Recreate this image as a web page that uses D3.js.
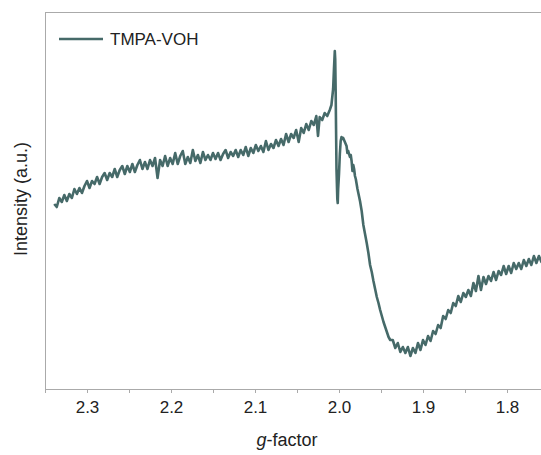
<!DOCTYPE html>
<html>
<head>
<meta charset="utf-8">
<script src="https://cdn.jsdelivr.net/npm/d3@7"></script>
<style>
  body { margin: 0; background: #fff; }
  svg { display: block; font-family: "Liberation Sans", Arial, sans-serif; }
</style>
</head>
<body>
<script>
// DATA
// g-factor positions (x)
var gFactor = [
  2.339, 2.336, 2.333, 2.330, 2.327, 2.324, 2.321, 2.318, 2.315, 2.312,
  2.309, 2.306, 2.303, 2.300, 2.297, 2.294, 2.291, 2.288, 2.285, 2.282,
  2.279, 2.276, 2.273, 2.270, 2.267, 2.264, 2.261, 2.258, 2.255, 2.252,
  2.249, 2.246, 2.243, 2.240, 2.237, 2.234, 2.231, 2.228, 2.225, 2.222,
  2.219, 2.216, 2.213, 2.210, 2.207, 2.204, 2.201, 2.198, 2.195, 2.192,
  2.189, 2.186, 2.183, 2.180, 2.177, 2.174, 2.171, 2.168, 2.165, 2.162,
  2.159, 2.156, 2.153, 2.150, 2.147, 2.144, 2.141, 2.138, 2.135, 2.132,
  2.129, 2.126, 2.123, 2.120, 2.117, 2.114, 2.111, 2.108, 2.105, 2.102,
  2.099, 2.096, 2.093, 2.090, 2.087, 2.084, 2.081, 2.078, 2.075, 2.072,
  2.069, 2.066, 2.063, 2.060, 2.057, 2.054, 2.051, 2.048, 2.045, 2.042,
  2.039, 2.036, 2.033, 2.030, 2.027, 2.025, 2.023, 2.020, 2.017, 2.014,
  2.011, 2.009, 2.007, 2.006, 2.005, 2.0045, 2.004, 2.0035, 2.003, 2.002,
  2.0015, 2.001, 2.000, 1.999, 1.998, 1.997, 1.996, 1.995, 1.993, 1.991,
  1.990, 1.989, 1.987, 1.986, 1.985, 1.984, 1.983, 1.982, 1.981, 1.980,
  1.979, 1.978, 1.977, 1.975, 1.973, 1.971, 1.969, 1.967, 1.965, 1.963,
  1.961, 1.959, 1.957, 1.955, 1.953, 1.951, 1.949, 1.947, 1.945, 1.943,
  1.941, 1.939, 1.936, 1.933, 1.930, 1.927, 1.924, 1.921, 1.918, 1.915,
  1.912, 1.909, 1.906, 1.903, 1.900, 1.897, 1.894, 1.891, 1.888, 1.885,
  1.882, 1.879, 1.876, 1.873, 1.870, 1.867, 1.864, 1.861, 1.858, 1.855,
  1.852, 1.849, 1.846, 1.843, 1.840, 1.837, 1.834, 1.831, 1.828, 1.825,
  1.822, 1.819, 1.816, 1.813, 1.810, 1.807, 1.804, 1.801, 1.798, 1.795,
  1.792, 1.789, 1.786, 1.783, 1.780, 1.777, 1.774, 1.771, 1.768, 1.765,
  1.762, 1.759, 1.756, 1.753, 1.750
];

// EPR intensity (a.u.), same order as gFactor
var intensity = [
  185, 182, 191, 187, 194, 188, 195, 191, 200, 195,
  201, 196, 203, 208, 201, 208, 205, 212, 205, 212,
  216, 209, 216, 212, 220, 212, 219, 223, 215, 223,
  217, 225, 217, 224, 229, 220, 227, 220, 229, 223,
  231, 211, 229, 223, 233, 223, 231, 225, 236, 225,
  233, 238, 225, 232, 226, 239, 228, 234, 226, 237,
  229, 234, 229, 236, 230, 236, 229, 235, 239, 231,
  237, 233, 239, 232, 239, 234, 242, 233, 241, 236,
  244, 238, 243, 237, 248, 239, 245, 241, 249, 243,
  250, 244, 255, 247, 255, 251, 259, 247, 261, 256,
  265, 259, 268, 264, 273, 253, 272, 269, 276, 273,
  279, 284, 300, 320, 338, 330, 300, 260, 220, 190,
  186, 200, 215, 235, 248, 252, 250, 251, 247, 243,
  236, 238, 232, 234, 228, 218, 224, 220, 213, 210,
  205, 200, 196, 188, 178, 164, 155, 146, 136, 124,
  117, 108, 100, 92, 86, 79, 73, 67, 62, 57,
  52, 49, 49, 41, 46, 37, 42, 36, 42, 33,
  41, 36, 46, 39, 49, 44, 53, 48, 58, 55,
  64, 61, 73, 70, 79, 76, 86, 83, 93, 87,
  96, 92, 99, 93, 106, 98, 113, 99, 112, 105,
  113, 108, 117, 109, 118, 114, 123, 115, 123, 116,
  126, 120, 126, 120, 129, 123, 130, 124, 133, 126,
  133, 127, 136, 129, 135
];

var seriesName = "TMPA-VOH";
var majorTicks = [2.3, 2.2, 2.1, 2.0, 1.9, 1.8];
var minorTicks = [2.35, 2.25, 2.15, 2.05, 1.95, 1.85, 1.75];

var data = gFactor.map(function(g, i){ return {g: g, v: intensity[i]}; });

// D3
var svg = d3.select("body")
    .append("svg")
    .attr("width", 541)
    .attr("height", 455);

const margin = {top: 12, left: 45, bottom: 66};
const plotW = 504;
const plotH = 455 - margin.top - margin.bottom;

const xScale = d3.scaleLinear()
    .domain([2.35, 1.75])
    .range([margin.left, margin.left + plotW]);

const yScale = d3.scaleLinear()
    .domain([0, 377])
    .range([margin.top + plotH, margin.top]);

var axisColor = "#aaaaaa";

// frame: top and left
svg.append("line")
    .attr("x1", margin.left).attr("x2", margin.left + plotW)
    .attr("y1", margin.top + 0.5).attr("y2", margin.top + 0.5)
    .attr("stroke", axisColor);
svg.append("line")
    .attr("x1", margin.left + 0.5).attr("x2", margin.left + 0.5)
    .attr("y1", margin.top).attr("y2", margin.top + plotH)
    .attr("stroke", axisColor);

// x axis
var xAxisG = svg.append("g")
    .attr("transform", "translate(0," + (margin.top + plotH) + ")")
    .call(d3.axisBottom(xScale)
        .tickValues(majorTicks.concat(minorTicks))
        .tickSize(4)
        .tickSizeOuter(0)
        .tickFormat(function(d){
            return majorTicks.indexOf(d) >= 0 ? d3.format(".1f")(d) : "";
        }));
xAxisG.select(".domain").attr("stroke", axisColor);
xAxisG.selectAll(".tick line").attr("stroke", axisColor);
xAxisG.selectAll(".tick text")
    .attr("fill", "#222")
    .attr("font-size", 17)
    .attr("y", 12);

// curve
svg.append("path")
    .datum(data)
    .attr("fill", "none")
    .attr("stroke", "#466a69")
    .attr("stroke-width", 2.6)
    .attr("stroke-linejoin", "round")
    .attr("d", d3.line()
        .x(function(d){ return xScale(d.g); })
        .y(function(d){ return yScale(d.v); }));

// legend
svg.append("line")
    .attr("x1", 59).attr("x2", 103)
    .attr("y1", 39).attr("y2", 39)
    .attr("stroke", "#466a69")
    .attr("stroke-width", 2.4);
svg.append("text")
    .attr("x", 110).attr("y", 45)
    .attr("font-size", 17)
    .attr("fill", "#222")
    .text(seriesName);

// axis titles
var xt = svg.append("text")
    .attr("x", 287).attr("y", 446)
    .attr("text-anchor", "middle")
    .attr("font-size", 18)
    .attr("fill", "#222");
xt.append("tspan").attr("font-style", "italic").text("g");
xt.append("tspan").text("-factor");

svg.append("text")
    .attr("transform", "translate(27,199) rotate(-90)")
    .attr("text-anchor", "middle")
    .attr("font-size", 18)
    .attr("fill", "#222")
    .text("Intensity (a.u.)");
</script>
</body>
</html>
